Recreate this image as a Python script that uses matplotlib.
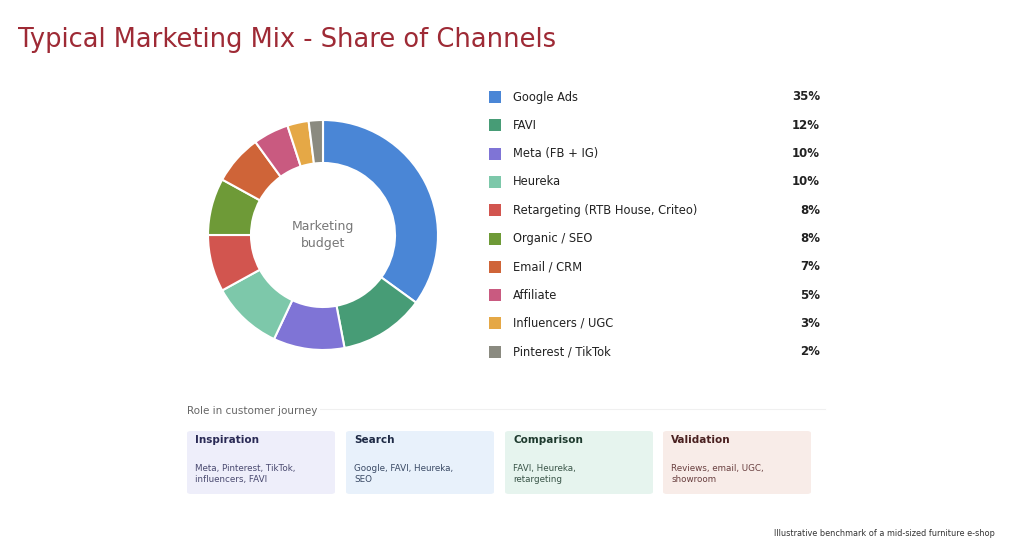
import matplotlib
matplotlib.use("Agg")
import matplotlib.pyplot as plt
from matplotlib.patches import FancyBboxPatch

channels = ["Google Ads", "FAVI", "Meta (FB + IG)", "Heureka", "Retargeting (RTB House, Criteo)",
            "Organic / SEO", "Email / CRM", "Affiliate", "Influencers / UGC", "Pinterest / TikTok"]
shares = [35, 12, 10, 10, 8, 8, 7, 5, 3, 2]
colors = ["#4A86D6", "#479C76", "#7F74D6", "#7DC8AA", "#D2554F", "#6E9A37", "#CF6438",
          "#C95A80", "#E5A846", "#8A8A80"]
stages = ["Inspiration", "Search", "Comparison", "Validation"]
stage_text = ["Meta, Pinterest, TikTok,\ninfluencers, FAVI", "Google, FAVI, Heureka,\nSEO",
              "FAVI, Heureka,\nretargeting", "Reviews, email, UGC,\nshowroom"]
stage_colors = ["#EEEEFA", "#E8F1FB", "#E6F4EE", "#F8ECE8"]
stage_title_colors = ["#2A2A55", "#1E2A45", "#1E3A2E", "#4A2020"]
stage_body_colors = ["#4A4A70", "#3A4A65", "#3A5548", "#6A4040"]

W, H = 1024, 552
fig = plt.figure(figsize=(W/100, H/100), dpi=100)
fig.patch.set_facecolor("white")

def fx(x): return x / W
def fy(y): return 1 - y / H

fig.text(fx(18), fy(40), "Typical Marketing Mix - Share of Channels", fontsize=18.5, fontweight="medium",
         color="#9E2A35", va="center", ha="left")

cx, cy, r = 323, 235, 115
ax = fig.add_axes([fx(cx - r), fy(cy + r), 2*r/W, 2*r/H])
ax.pie(shares, colors=colors, startangle=90, counterclock=False, radius=1,
       wedgeprops=dict(width=1 - 72/115, edgecolor="white", linewidth=1.5))
ax.set_aspect("equal")
ax.set_xlim(-1, 1); ax.set_ylim(-1, 1)
ax.text(0, 0, "Marketing\nbudget", ha="center", va="center", fontsize=9, color="#777777", linespacing=1.4)

for i, (name, s, c) in enumerate(zip(channels, shares, colors)):
    y = 97 + i * 28.3
    fig.patches.append(FancyBboxPatch((fx(489), fy(y + 6)), 12/W, 12/H, boxstyle="square,pad=0",
                                      transform=fig.transFigure, facecolor=c, edgecolor="none"))
    fig.text(fx(513), fy(y), name, fontsize=8.3, color="#222222", va="center", ha="left")
    fig.text(fx(820), fy(y), f"{s}%", fontsize=8.5, fontweight="bold", color="#222222", va="center", ha="right")

fig.text(fx(187), fy(411), "Role in customer journey", fontsize=7.5, color="#666666", va="center")
fig.add_artist(plt.Line2D([fx(320), fx(825)], [fy(409), fy(409)], color="#F0F0F0", lw=0.8,
                          transform=fig.transFigure))
xs = [187, 346, 505, 663]
for x0, t, b, bc, tc, bdc in zip(xs, stages, stage_text, stage_colors, stage_title_colors, stage_body_colors):
    fig.patches.append(FancyBboxPatch((fx(x0), fy(494)), 148/W, 63/H,
                                      boxstyle="round,pad=0,rounding_size=0.004",
                                      transform=fig.transFigure, facecolor=bc, edgecolor="none"))
    fig.text(fx(x0 + 8), fy(440), t, fontsize=7.5, fontweight="bold", color=tc, va="center")
    fig.text(fx(x0 + 8), fy(474), b, fontsize=6.3, color=bdc, va="center", linespacing=1.2)

fig.text(fx(995), fy(533), "Illustrative benchmark of a mid-sized furniture e-shop", fontsize=5.9,
         color="#333333", ha="right", va="center")

fig.savefig("out.png", dpi=100)
